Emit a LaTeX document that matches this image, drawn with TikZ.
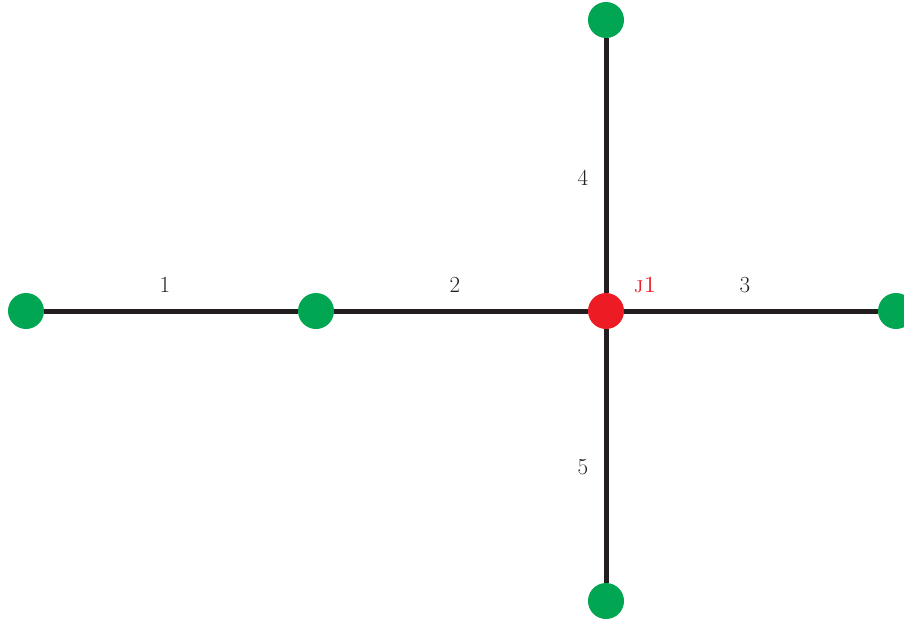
\documentclass[tikz,border=0pt]{standalone}
\definecolor{edgecol}{HTML}{231F20}
\definecolor{vgreen}{HTML}{00A651}
\definecolor{vred}{HTML}{ED1C24}
\tikzset{
  vtx/.style={circle, fill=vgreen, minimum size=36pt, inner sep=0pt},
  jvtx/.style={circle, fill=vred, minimum size=36pt, inner sep=0pt},
  edge/.style={line width=5pt, color=edgecol},
  elabel/.style={font=\fontsize{23}{27}\selectfont, text=edgecol, inner sep=0pt},
}
\begin{document}
\begin{tikzpicture}[x=1pt,y=-1pt]
\useasboundingbox (0,0) rectangle (904,621);
\clip (0,0) rectangle (904,621);
\node[vtx] (a) at (26,311) {};
\node[vtx] (b) at (316,311) {};
\node[vtx] (r) at (896,311) {};
\node[vtx] (t) at (606,20) {};
\node[vtx] (d) at (606,601) {};
\node[jvtx] (j) at (606,311) {};
\draw[edge] (a) -- (b);
\draw[edge] (b) -- (j);
\draw[edge] (j) -- (r);
\draw[edge] (j) -- (t);
\draw[edge] (j) -- (d);
\node[elabel] (l1) at (165,285) {1};
\node[elabel] (l2) at (455,285) {2};
\node[elabel] (l3) at (745,285) {3};
\node[elabel] (l4) at (583,178) {4};
\node[elabel] (l5) at (583,467) {5};
\node[elabel, text=vred] (lj) at (645,285) {\textsc{j1}};
\end{tikzpicture}
\end{document}
